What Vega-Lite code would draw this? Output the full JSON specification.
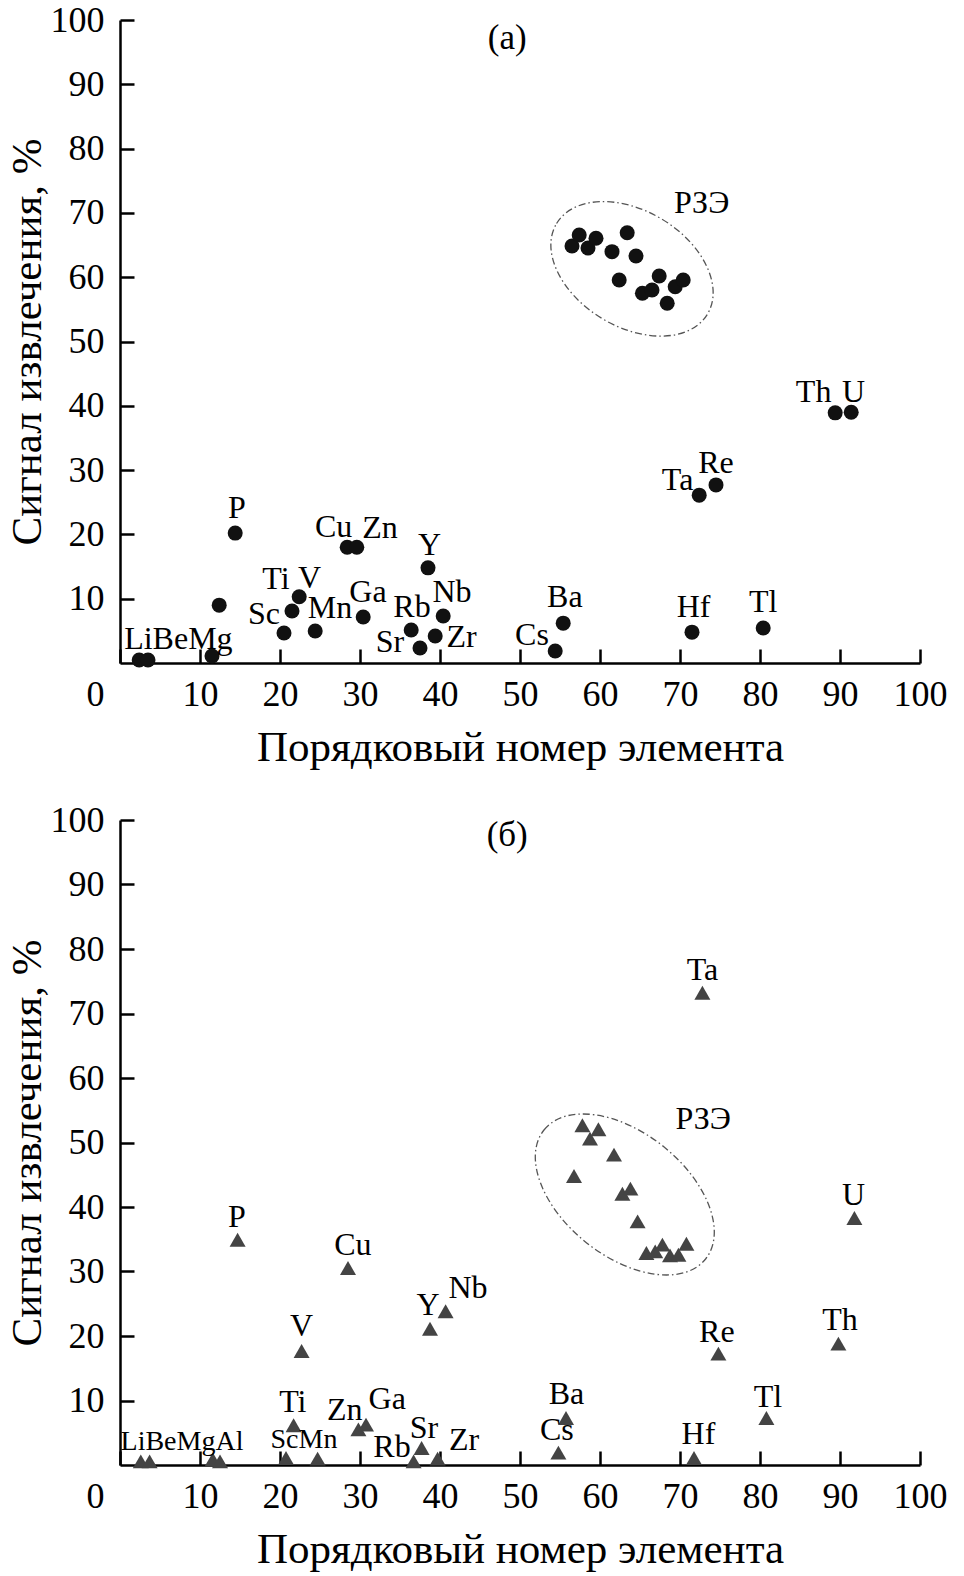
{
  "$schema": "https://vega.github.io/schema/vega-lite/v6.json",
  "padding": {"left": 6, "top": 2, "right": 10, "bottom": 6},
  "background": "white",
  "spacing": 33,
  "config": {
    "view": {"stroke": null},
    "font": "Liberation Serif",
    "axis": {
      "grid": false,
      "domainColor": "#000",
      "domainWidth": 2.5,
      "tickColor": "#000",
      "tickWidth": 2.5,
      "tickSize": -14,
      "labelFont": "Liberation Serif",
      "labelFontSize": 36,
      "labelColor": "#000",
      "titleFont": "Liberation Serif",
      "titleFontSize": 43,
      "titleFontWeight": "normal",
      "titleColor": "#000"
    },
    "axisX": {"labelPadding": 28, "titlePadding": 14, "labelFlush": false},
    "axisY": {"labelPadding": 30, "titlePadding": 1}
  },
  "vconcat": [
    {
      "width": 800,
      "height": 643,
      "encoding": {
        "x": {"field": "x", "type": "quantitative", "scale": {"domain": [0, 100], "nice": false, "zero": false},
          "axis": {"values": [0, 10, 20, 30, 40, 50, 60, 70, 80, 90, 100], "title": "Порядковый номер элемента",
            "labelOffset": {"condition": {"test": "datum.value === 0", "value": -25}, "value": 0}}},
        "y": {"field": "y", "type": "quantitative", "scale": {"domain": [0, 100], "nice": false},
          "axis": {"values": [10, 20, 30, 40, 50, 60, 70, 80, 90, 100], "title": "Сигнал извлечения, %"}}
      },
      "layer": [
        {
          "data": {"name": "ell"},
          "transform": [{"filter": "datum.panel === 'a'"}],
          "mark": {"type": "point", "shape": "M -1 0 C -1 -0.364 -0.552 -0.659 0 -0.659 C 0.552 -0.659 1 -0.364 1 0 C 1 0.364 0.552 0.659 0 0.659 C -0.552 0.659 -1 0.364 -1 0 Z",
            "size": 30976, "angle": 31, "filled": false, "color": "#555", "strokeWidth": 1.3, "strokeDash": [7, 3, 1.5, 3], "opacity": 1}
        },
        {
          "data": {"name": "pts"},
          "transform": [{"filter": "datum.panel === 'a'"}],
          "mark": {"type": "circle", "size": 225, "color": "#111", "opacity": 1}
        },
        {
          "data": {"name": "lbl"},
          "transform": [{"filter": "datum.panel === 'a'"}],
          "mark": {"type": "text", "fontSize": 32, "font": "Liberation Serif", "color": "#000", "baseline": "middle", "align": "center"},
          "encoding": {"text": {"field": "t"}}
        },
        {
          "data": {"name": "tags"},
          "transform": [{"filter": "datum.panel === 'a'"}],
          "mark": {"type": "text", "fontSize": 35, "font": "Liberation Serif", "color": "#000", "baseline": "middle", "align": "center"},
          "encoding": {"text": {"field": "t"}}
        }
      ]
    },
    {
      "width": 800,
      "height": 645,
      "encoding": {
        "x": {"field": "x", "type": "quantitative", "scale": {"domain": [0, 100], "nice": false, "zero": false},
          "axis": {"values": [0, 10, 20, 30, 40, 50, 60, 70, 80, 90, 100], "title": "Порядковый номер элемента",
            "labelOffset": {"condition": {"test": "datum.value === 0", "value": -25}, "value": 0}}},
        "y": {"field": "y", "type": "quantitative", "scale": {"domain": [0, 100], "nice": false},
          "axis": {"values": [10, 20, 30, 40, 50, 60, 70, 80, 90, 100], "title": "Сигнал извлечения, %"}}
      },
      "layer": [
        {
          "data": {"name": "ell"},
          "transform": [{"filter": "datum.panel === 'b'"}],
          "mark": {"type": "point", "shape": "M -1 0 C -1 -0.329 -0.552 -0.596 0 -0.596 C 0.552 -0.596 1 -0.329 1 0 C 1 0.329 0.552 0.596 0 0.596 C -0.552 0.596 -1 0.329 -1 0 Z",
            "size": 42767, "angle": 38.6, "filled": false, "color": "#555", "strokeWidth": 1.3, "strokeDash": [7, 3, 1.5, 3], "opacity": 1}
        },
        {
          "data": {"name": "pts"},
          "transform": [{"filter": "datum.panel === 'b'"}],
          "mark": {"type": "point", "shape": "triangle-up", "size": 256, "filled": true, "color": "#444", "opacity": 1}
        },
        {
          "data": {"name": "lbl"},
          "transform": [{"filter": "datum.panel === 'b'"}],
          "mark": {"type": "text", "fontSize": 32, "font": "Liberation Serif", "color": "#000", "baseline": "middle", "align": "center"},
          "encoding": {"text": {"field": "t"}}
        },
        {
          "data": {"name": "lblsm"},
          "transform": [{"filter": "datum.panel === 'b'"}],
          "mark": {"type": "text", "fontSize": 28, "font": "Liberation Serif", "color": "#000", "baseline": "middle", "align": "center"},
          "encoding": {"text": {"field": "t"}}
        },
        {
          "data": {"name": "tags"},
          "transform": [{"filter": "datum.panel === 'b'"}],
          "mark": {"type": "text", "fontSize": 35, "font": "Liberation Serif", "color": "#000", "baseline": "middle", "align": "center"},
          "encoding": {"text": {"field": "t"}}
        }
      ]
    }
  ],
  "datasets": {
    "ell": [
      {"panel": "a", "x": 64, "y": 61.3},
      {"panel": "b", "x": 63.1, "y": 41.94}
    ],
    "tags": [
      {"panel": "a", "t": "(а)", "x": 48.4, "y": 97.2},
      {"panel": "b", "t": "(б)", "x": 48.4, "y": 97.67}
    ],
    "pts": [
      {"panel": "a", "el": "Li", "x": 2.4, "y": 0.47},
      {"panel": "a", "el": "Be", "x": 3.5, "y": 0.47},
      {"panel": "a", "el": "Mg", "x": 11.5, "y": 1.09},
      {"panel": "a", "el": "Al", "x": 12.4, "y": 9.0},
      {"panel": "a", "el": "P", "x": 14.4, "y": 20.2},
      {"panel": "a", "el": "Sc", "x": 20.5, "y": 4.67},
      {"panel": "a", "el": "Ti", "x": 21.5, "y": 8.09},
      {"panel": "a", "el": "V", "x": 22.4, "y": 10.3},
      {"panel": "a", "el": "Mn", "x": 24.4, "y": 4.98},
      {"panel": "a", "el": "Cu", "x": 28.4, "y": 18.0},
      {"panel": "a", "el": "Zn", "x": 29.6, "y": 18.0},
      {"panel": "a", "el": "Ga", "x": 30.4, "y": 7.15},
      {"panel": "a", "el": "Rb", "x": 36.4, "y": 5.13},
      {"panel": "a", "el": "Sr", "x": 37.5, "y": 2.33},
      {"panel": "a", "el": "Y", "x": 38.5, "y": 14.8},
      {"panel": "a", "el": "Zr", "x": 39.4, "y": 4.2},
      {"panel": "a", "el": "Nb", "x": 40.4, "y": 7.3},
      {"panel": "a", "el": "Cs", "x": 54.4, "y": 1.87},
      {"panel": "a", "el": "Ba", "x": 55.4, "y": 6.2},
      {"panel": "a", "el": "La", "x": 56.5, "y": 64.85},
      {"panel": "a", "el": "Ce", "x": 57.4, "y": 66.56},
      {"panel": "a", "el": "Pr", "x": 58.5, "y": 64.54},
      {"panel": "a", "el": "Nd", "x": 59.5, "y": 66.05},
      {"panel": "a", "el": "Sm", "x": 61.5, "y": 63.97},
      {"panel": "a", "el": "Eu", "x": 62.4, "y": 59.56},
      {"panel": "a", "el": "Gd", "x": 63.4, "y": 66.92},
      {"panel": "a", "el": "Tb", "x": 64.5, "y": 63.3},
      {"panel": "a", "el": "Dy", "x": 65.3, "y": 57.5},
      {"panel": "a", "el": "Ho", "x": 66.5, "y": 58.0},
      {"panel": "a", "el": "Er", "x": 67.4, "y": 60.19},
      {"panel": "a", "el": "Tm", "x": 68.4, "y": 55.94},
      {"panel": "a", "el": "Yb", "x": 69.4, "y": 58.52},
      {"panel": "a", "el": "Lu", "x": 70.4, "y": 59.56},
      {"panel": "a", "el": "Hf", "x": 71.5, "y": 4.8},
      {"panel": "a", "el": "Ta", "x": 72.4, "y": 26.1},
      {"panel": "a", "el": "Re", "x": 74.5, "y": 27.7},
      {"panel": "a", "el": "Tl", "x": 80.4, "y": 5.44},
      {"panel": "a", "el": "Th", "x": 89.4, "y": 38.9},
      {"panel": "a", "el": "U", "x": 91.4, "y": 39.0},
      {"panel": "b", "el": "Li", "x": 2.6, "y": 0.57},
      {"panel": "b", "el": "Be", "x": 3.7, "y": 0.57},
      {"panel": "b", "el": "Mg", "x": 11.6, "y": 0.88},
      {"panel": "b", "el": "Al", "x": 12.5, "y": 0.57},
      {"panel": "b", "el": "P", "x": 14.7, "y": 34.93},
      {"panel": "b", "el": "Sc", "x": 20.75, "y": 1.09},
      {"panel": "b", "el": "Ti", "x": 21.7, "y": 6.16},
      {"panel": "b", "el": "V", "x": 22.7, "y": 17.67},
      {"panel": "b", "el": "Mn", "x": 24.7, "y": 0.98},
      {"panel": "b", "el": "Cu", "x": 28.5, "y": 30.54},
      {"panel": "b", "el": "Zn", "x": 29.8, "y": 5.53},
      {"panel": "b", "el": "Ga", "x": 30.75, "y": 6.25},
      {"panel": "b", "el": "Rb", "x": 36.7, "y": 0.57},
      {"panel": "b", "el": "Sr", "x": 37.7, "y": 2.64},
      {"panel": "b", "el": "Y", "x": 38.75, "y": 21.13},
      {"panel": "b", "el": "Zr", "x": 39.7, "y": 0.98},
      {"panel": "b", "el": "Nb", "x": 40.7, "y": 23.83},
      {"panel": "b", "el": "Cs", "x": 54.8, "y": 1.91},
      {"panel": "b", "el": "Ba", "x": 55.75, "y": 7.29},
      {"panel": "b", "el": "La", "x": 56.75, "y": 44.81},
      {"panel": "b", "el": "Ce", "x": 57.8, "y": 52.67},
      {"panel": "b", "el": "Pr", "x": 58.75, "y": 50.59},
      {"panel": "b", "el": "Nd", "x": 59.8, "y": 52.05},
      {"panel": "b", "el": "Sm", "x": 61.75, "y": 48.11},
      {"panel": "b", "el": "Eu", "x": 62.8, "y": 42.06},
      {"panel": "b", "el": "Gd", "x": 63.8, "y": 42.84},
      {"panel": "b", "el": "Tb", "x": 64.7, "y": 37.78},
      {"panel": "b", "el": "Dy", "x": 65.8, "y": 32.87},
      {"panel": "b", "el": "Ho", "x": 66.9, "y": 33.13},
      {"panel": "b", "el": "Er", "x": 67.8, "y": 34.16},
      {"panel": "b", "el": "Tm", "x": 68.75, "y": 32.51},
      {"panel": "b", "el": "Yb", "x": 69.8, "y": 32.6},
      {"panel": "b", "el": "Lu", "x": 70.8, "y": 34.31},
      {"panel": "b", "el": "Hf", "x": 71.75, "y": 1.09},
      {"panel": "b", "el": "Ta", "x": 72.8, "y": 73.22},
      {"panel": "b", "el": "Re", "x": 74.8, "y": 17.26},
      {"panel": "b", "el": "Tl", "x": 80.8, "y": 7.29},
      {"panel": "b", "el": "Th", "x": 89.8, "y": 18.81},
      {"panel": "b", "el": "U", "x": 91.8, "y": 38.29}
    ],
    "lblsm": [
      {"panel": "b", "t": "LiBeMgAl", "x": 7.75, "y": 3.57},
      {"panel": "b", "t": "ScMn", "x": 23.0, "y": 3.88}
    ],
    "lbl": [
      {"panel": "a", "t": "LiBeMg", "x": 7.3, "y": 3.7},
      {"panel": "a", "t": "P", "x": 14.6, "y": 24.06},
      {"panel": "a", "t": "Sc", "x": 18.0, "y": 7.6},
      {"panel": "a", "t": "Ti", "x": 19.5, "y": 13.0},
      {"panel": "a", "t": "V", "x": 23.7, "y": 13.17},
      {"panel": "a", "t": "Mn", "x": 26.25, "y": 8.5},
      {"panel": "a", "t": "Cu", "x": 26.7, "y": 21.2},
      {"panel": "a", "t": "Zn", "x": 32.5, "y": 20.95},
      {"panel": "a", "t": "Ga", "x": 31.0, "y": 11.09},
      {"panel": "a", "t": "Rb", "x": 36.5, "y": 8.76},
      {"panel": "a", "t": "Sr", "x": 33.75, "y": 3.31},
      {"panel": "a", "t": "Y", "x": 38.7, "y": 18.35},
      {"panel": "a", "t": "Zr", "x": 42.7, "y": 4.09},
      {"panel": "a", "t": "Nb", "x": 41.5, "y": 11.09},
      {"panel": "a", "t": "Cs", "x": 51.5, "y": 4.35},
      {"panel": "a", "t": "Ba", "x": 55.6, "y": 10.31},
      {"panel": "a", "t": "Hf", "x": 71.7, "y": 8.76},
      {"panel": "a", "t": "Tl", "x": 80.4, "y": 9.53},
      {"panel": "a", "t": "Ta", "x": 69.7, "y": 28.46},
      {"panel": "a", "t": "Re", "x": 74.5, "y": 31.06},
      {"panel": "a", "t": "Th", "x": 86.7, "y": 42.19},
      {"panel": "a", "t": "U", "x": 91.7, "y": 42.19},
      {"panel": "a", "t": "РЗЭ", "x": 72.7, "y": 71.49},
      {"panel": "b", "t": "Ti", "x": 21.6, "y": 9.77},
      {"panel": "b", "t": "Zn", "x": 28.1, "y": 8.53},
      {"panel": "b", "t": "Ga", "x": 33.4, "y": 10.23},
      {"panel": "b", "t": "Rb", "x": 34.0, "y": 2.79},
      {"panel": "b", "t": "Sr", "x": 38.0, "y": 5.74},
      {"panel": "b", "t": "Zr", "x": 43.0, "y": 3.88},
      {"panel": "b", "t": "P", "x": 14.6, "y": 38.45},
      {"panel": "b", "t": "Cu", "x": 29.1, "y": 34.06},
      {"panel": "b", "t": "V", "x": 22.7, "y": 21.55},
      {"panel": "b", "t": "Y", "x": 38.5, "y": 24.76},
      {"panel": "b", "t": "Nb", "x": 43.5, "y": 27.44},
      {"panel": "b", "t": "Ta", "x": 72.8, "y": 76.7},
      {"panel": "b", "t": "РЗЭ", "x": 72.9, "y": 53.69},
      {"panel": "b", "t": "U", "x": 91.7, "y": 41.81},
      {"panel": "b", "t": "Th", "x": 90.0, "y": 22.43},
      {"panel": "b", "t": "Re", "x": 74.6, "y": 20.62},
      {"panel": "b", "t": "Ba", "x": 55.8, "y": 11.05},
      {"panel": "b", "t": "Cs", "x": 54.6, "y": 5.38},
      {"panel": "b", "t": "Hf", "x": 72.3, "y": 4.85},
      {"panel": "b", "t": "Tl", "x": 81.0, "y": 10.54}
    ]
  }
}
